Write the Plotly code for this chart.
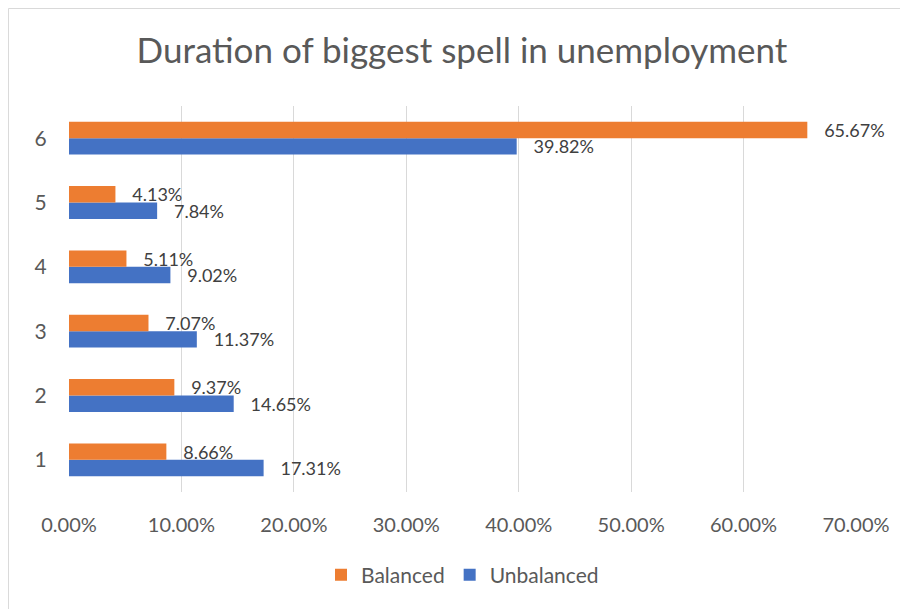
import plotly.graph_objects as go

categories = ["1", "2", "3", "4", "5", "6"]
balanced = [8.66, 9.37, 7.07, 5.11, 4.13, 65.67]
unbalanced = [17.31, 14.65, 11.37, 9.02, 7.84, 39.82]
x_ticks = [0, 10, 20, 30, 40, 50, 60, 70]
x_tick_labels = ["0.00%", "10.00%", "20.00%", "30.00%", "40.00%", "50.00%", "60.00%", "70.00%"]
title_text = "Duration of biggest spell in unemployment"

FONT = "Lato, 'Open Sans', sans-serif"
TXT = "#404040"
TICK = "#595959"

fig = go.Figure()
fig.add_trace(go.Bar(
    y=categories, x=unbalanced, name="Unbalanced", orientation="h",
    marker=dict(color="#4472C4", line=dict(width=0)),
    texttemplate="\u00a0\u00a0\u00a0%{x:.2f}%", textposition="outside",
    textfont=dict(size=18, color=TXT, family=FONT),
    cliponaxis=False, constraintext="none", legendrank=2,
))
fig.add_trace(go.Bar(
    y=categories, x=balanced, name="Balanced", orientation="h",
    marker=dict(color="#ED7D31", line=dict(width=0)),
    texttemplate="\u00a0\u00a0\u00a0%{x:.2f}%", textposition="outside",
    textfont=dict(size=18, color=TXT, family=FONT),
    cliponaxis=False, constraintext="none", legendrank=1,
))

fig.update_layout(
    width=908, height=609, autosize=False,
    margin=dict(l=61, r=60, t=98, b=125, autoexpand=False),
    paper_bgcolor="white", plot_bgcolor="white",
    barmode="group", bargap=0.49, bargroupgap=0,
    title=dict(text=title_text, x=0.5, xanchor="center",
               y=1 - 43 / 609, yanchor="middle",
               font=dict(size=35, color=TICK, family=FONT)),
    xaxis=dict(range=[0, 70], tickvals=x_ticks, ticktext=x_tick_labels,
               tickangle=0,
               showgrid=True, gridcolor="#D9D9D9", gridwidth=1,
               zeroline=False, showline=False, ticks="outside", ticklen=15,
               tickcolor="rgba(0,0,0,0)",
               tickfont=dict(size=20, color=TICK, family=FONT)),
    yaxis=dict(type="category", showgrid=False, zeroline=False, showline=False,
               ticks="outside", ticklen=17, tickcolor="rgba(0,0,0,0)",
               tickfont=dict(size=21, color=TICK, family=FONT)),
    legend=dict(orientation="h", x=0.5, xanchor="center",
                y=-0.215, yanchor="middle",
                font=dict(size=21, color=TICK, family=FONT)),
    showlegend=True,
    shapes=[dict(type="rect", xref="paper", yref="paper",
                 x0=-0.0769, x1=1.062, y0=-0.4, y1=1.2526,
                 line=dict(color="#D9D9D9", width=1), layer="below")],
)

fig.write_html("out.html")
